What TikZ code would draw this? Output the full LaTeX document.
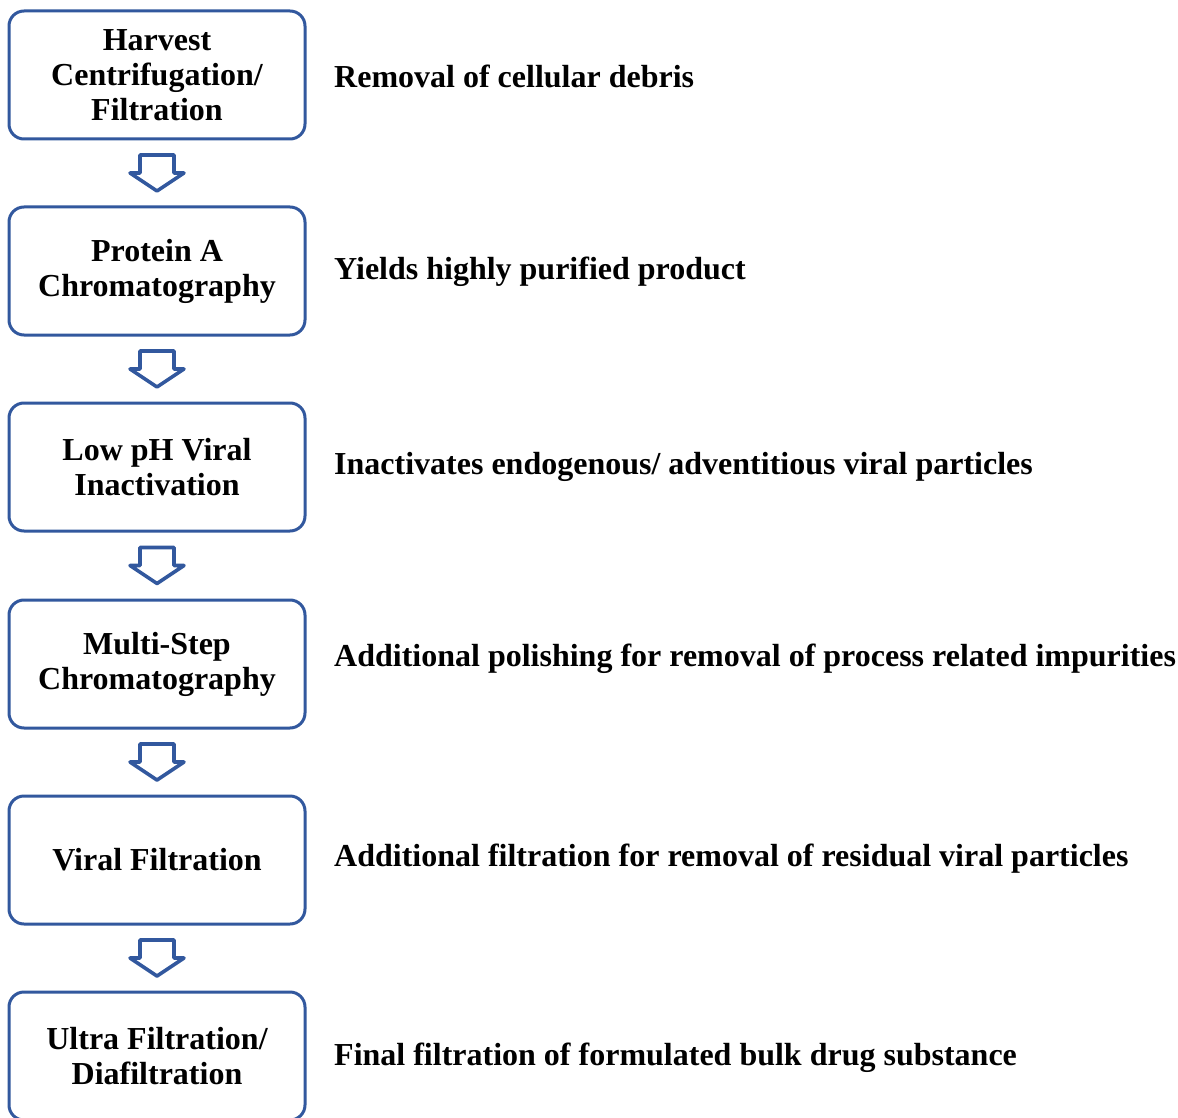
\documentclass[tikz,border=0pt]{standalone}
\usepackage{fontspec}
\setmainfont{Liberation Serif}
\usetikzlibrary{calc}
\definecolor{flowblue}{RGB}{50,88,158}
\tikzset{
  stepbox/.style={draw=flowblue, line width=3pt, rounded corners=15pt,
    minimum width=296pt, minimum height=128pt, align=center, inner sep=0pt,
    font=\fontsize{32}{35}\selectfont\bfseries},
  desc/.style={anchor=west, inner sep=0pt, font=\fontsize{32}{35}\selectfont\bfseries},
  blockarrow/.style={draw=flowblue, line width=3.6pt, line join=round, fill=white}
}
\newcommand{\flowarrow}[2]{%
  \path let \p1=($(#1.south)!0.5!(#2.north)$) in
    [blockarrow] (\x1-17,\y1+18) -- (\x1+17,\y1+18) -- (\x1+17,\y1) -- (\x1+27,\y1)
    -- (\x1,\y1-18) -- (\x1-27,\y1) -- (\x1-17,\y1) -- cycle;}
\begin{document}
\begin{tikzpicture}[x=1pt,y=-1pt]
\useasboundingbox (0,0) rectangle (1178,1118);
\fill[white] (0,0) rectangle (1178,1118);
\node[stepbox] (b1) at (157,75) {Harvest\\Centrifugation/\\Filtration};
\node[stepbox] (b2) at (157,271) {Protein A\\Chromatography};
\node[stepbox] (b3) at (157,467) {Low pH Viral\\Inactivation};
\node[stepbox] (b4) at (157,664) {Multi-Step\\Chromatography};
\node[stepbox] (b5) at (157,860) {Viral Filtration};
\node[stepbox] (b6) at (157,1056) {Ultra Filtration/\\Diafiltration};
\node[desc] (d1) at (334,76) {Removal of cellular debris};
\node[desc] (d2) at (334,272) {Yields highly purified product};
\node[desc] (d3) at (334,467) {Inactivates endogenous/ adventitious viral particles};
\node[desc] (d4) at (334,659) {Additional polishing for removal of process related impurities};
\node[desc] (d5) at (334,859) {Additional filtration for removal of residual viral particles};
\node[desc] (d6) at (334,1058) {Final filtration of formulated bulk drug substance};
\flowarrow{b1}{b2}
\flowarrow{b2}{b3}
\flowarrow{b3}{b4}
\flowarrow{b4}{b5}
\flowarrow{b5}{b6}
\end{tikzpicture}
\end{document}
